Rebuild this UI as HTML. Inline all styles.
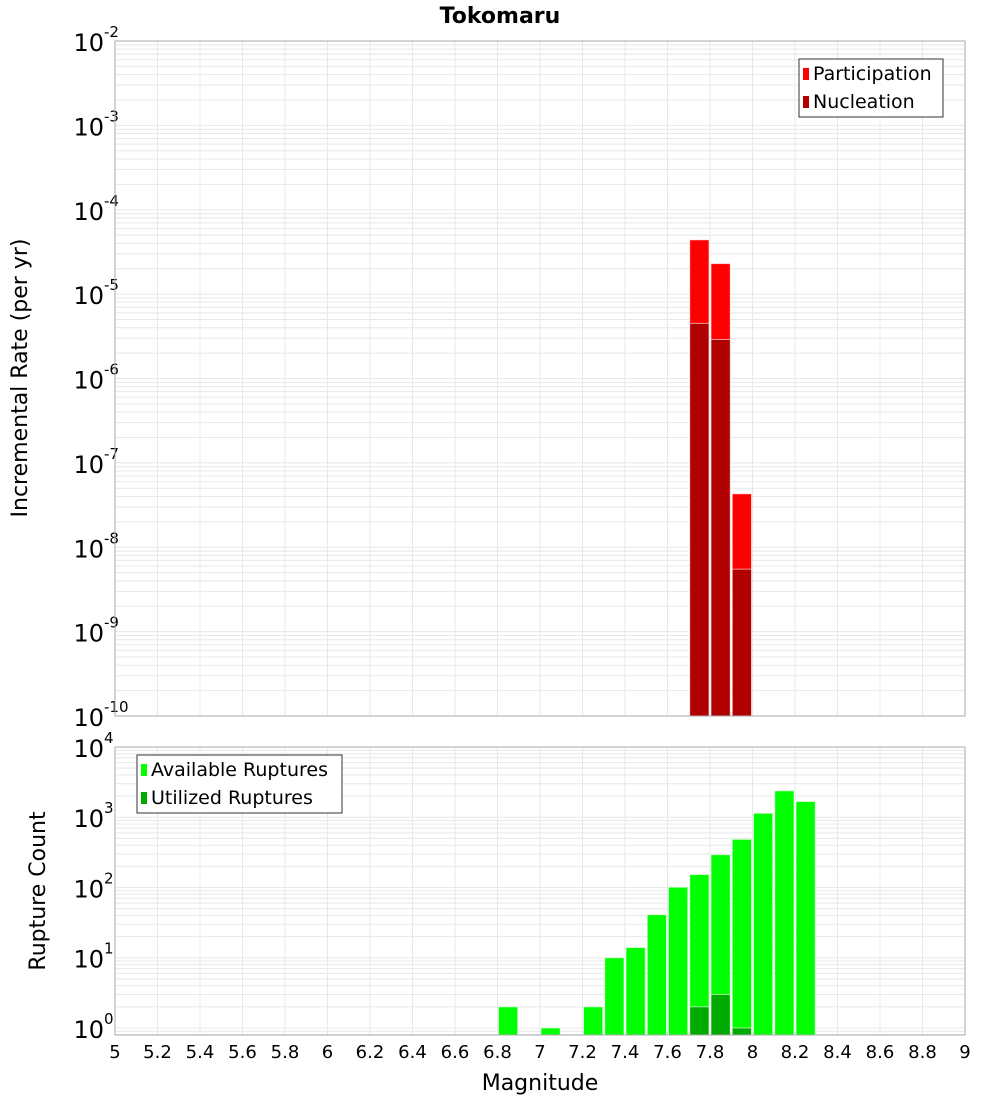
<!DOCTYPE html>
<html><head><meta charset="utf-8"><style>
body{margin:0;background:#fff;}
svg{display:block;font-family:"DejaVu Sans","Liberation Sans",sans-serif;}
</style></head><body>
<svg id="chart" width="1000" height="1100" xmlns="http://www.w3.org/2000/svg">
<text x="500" y="23" text-anchor="middle" font-size="22" font-weight="bold">Tokomaru</text>
<g id="top"></g>
<g id="bot"></g>
<text transform="translate(27,378) rotate(-90)" text-anchor="middle" font-size="22">Incremental Rate (per yr)</text>
<text transform="translate(45,891) rotate(-90)" text-anchor="middle" font-size="22">Rupture Count</text>
<text x="540" y="1090" text-anchor="middle" font-size="22">Magnitude</text>
</svg>
<script>
const rateMags = [7.75, 7.85, 7.95];
const participation = [4.4e-5, 2.3e-5, 4.3e-8];
const nucleation = [4.5e-6, 2.9e-6, 5.5e-9];
const countMags = [6.85, 7.05, 7.25, 7.35, 7.45, 7.55, 7.65, 7.75, 7.85, 7.95, 8.05, 8.15, 8.25];
const available = [2, 1, 2, 10, 14, 41, 101, 153, 293, 485, 1140, 2376, 1676];
const utilMags = [7.75, 7.85, 7.95];
const utilized = [2, 3, 1];
const xTicks = [5,5.2,5.4,5.6,5.8,6,6.2,6.4,6.6,6.8,7,7.2,7.4,7.6,7.8,8,8.2,8.4,8.6,8.8,9];
const topExps = [-10,-9,-8,-7,-6,-5,-4,-3,-2];
const botExps = [0,1,2,3,4];

const NS = "http://www.w3.org/2000/svg";
const X0 = 115, X1 = 965;
function xs(m){ return X0 + (m-5)/4*(X1-X0); }
function mk(parent, tag, attrs){ const e=document.createElementNS(NS,tag); for(const k in attrs) e.setAttribute(k,attrs[k]); parent.appendChild(e); return e; }

function panel(g, yTop, yBot, lmin, lmax, exps, ys){
  const bg = mk(g,'rect',{x:X0,y:yTop,width:X1-X0,height:yBot-yTop,fill:'#fff'});
  
  
  for(let d=Math.floor(lmin); d<Math.ceil(lmax); d++){
    for(let k=1;k<10;k++){
      const v=d+Math.log10(k); if(v<lmin||v>lmax) continue;
      const l = mk(g,'line',{x1:X0,x2:X1,y1:ys(Math.pow(10,v)),y2:ys(Math.pow(10,v)),stroke:'#e8e8e8','stroke-width':1});
      
      
    }
  }
  xTicks.forEach(t=>{
    const l = mk(g,'line',{x1:xs(t),x2:xs(t),y1:yTop,y2:yBot,stroke:'#e8e8e8','stroke-width':1});
    
    
  });
  exps.forEach(e=>{
    const y=ys(Math.pow(10,e));
    const t = mk(g,'text',{x:104,y:y+10,'text-anchor':'end','font-size':24});
    
    
    t.textContent='10';
    const s = mk(g,'text',{x:104,y:y-4,'text-anchor':'start','font-size':15});
    
    
    s.textContent=String(e);
  });
}
function bars(g, mags, vals, ys, yBot, color, name){
  mags.forEach((m,i)=>{
    const xa=xs(m-0.05), xb=xs(m+0.05), y=ys(vals[i]);
    const r = mk(g,'rect',{x:xa+1,y:y,width:xb-xa-2,height:yBot-y,fill:color,stroke:'#fff','stroke-opacity':0.6,'stroke-width':1});
    
    
  });
}
function frame(g,yTop,yBot){
  const f = mk(g,'rect',{x:X0,y:yTop,width:X1-X0,height:yBot-yTop,fill:'none',stroke:'#aaa','stroke-width':1});
  
  
}
function legend(g,x,y,w,items){
  const b = mk(g,'rect',{x:x,y:y,width:w,height:58,fill:'#fff',stroke:'#333','stroke-width':1});
  
  
  items.forEach((it,i)=>{
    const sw = mk(g,'rect',{x:x+4,y:y+9+i*28,width:6,height:12,fill:it[1]});
    
    
    const t = mk(g,'text',{x:x+14,y:y+21+i*28,'font-size':19});
    
    
    t.textContent=it[0];
  });
}

// top panel
const tg=document.getElementById('top');
const TT=41, TB=716;
const ysT = v => TB - (Math.log10(v)+10)/8*(TB-TT);
panel(tg,TT,TB,-10,-2,topExps,ysT);
bars(tg,rateMags,participation,ysT,TB,'#ff0000','participation-bar');
bars(tg,rateMags,nucleation,ysT,TB,'#b00000','nucleation-bar');
frame(tg,TT,TB);
legend(tg,799,59,144,[['Participation','#ff0000'],['Nucleation','#b00000']]);

// bottom panel
const bg=document.getElementById('bot');
const BT=747, BB=1035, BMIN=-0.1, BMAX=4;
const ysB = v => BB - (Math.log10(v)-BMIN)/(BMAX-BMIN)*(BB-BT);
panel(bg,BT,BB,BMIN,BMAX,botExps,ysB);
bars(bg,countMags,available,ysB,BB,'#00ff00','available-bar');
bars(bg,utilMags,utilized,ysB,BB,'#00aa00','utilized-bar');
frame(bg,BT,BB);
legend(bg,137,755,205,[['Available Ruptures','#00ff00'],['Utilized Ruptures','#00aa00']]);

xTicks.forEach(t=>{
  const l = mk(bg,'text',{x:xs(t),y:1058,'text-anchor':'middle','font-size':18});
  
  
  l.textContent=String(t);
});
</script>
</body></html>
